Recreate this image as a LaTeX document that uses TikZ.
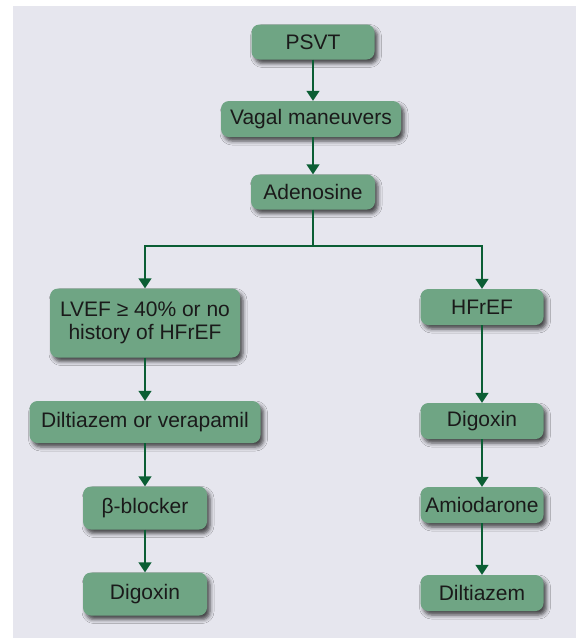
\documentclass[tikz,border=0pt]{standalone}
\usepackage{fontspec}
\setmainfont{Liberation Sans}
\usetikzlibrary{arrows.meta,shadows.blur}
\definecolor{panel}{HTML}{E6E6EE}
\definecolor{boxfill}{HTML}{6FA584}
\definecolor{flow}{HTML}{0B5E34}
\definecolor{ink}{HTML}{1A1A1A}
\tikzset{
  stepbox/.style={rectangle, rounded corners=8pt, fill=boxfill, draw=none,
    text=ink, font=\fontsize{21}{25}\selectfont, inner sep=0pt,
    blur shadow={shadow xshift=3pt, shadow yshift=-4pt,
      shadow blur radius=4pt, shadow opacity=70}},
  arr/.style={draw=flow, line width=1.5pt, -{Triangle[width=13pt,length=10pt]}},
  link/.style={draw=flow, line width=1.5pt}
}
\begin{document}
\begin{tikzpicture}[x=1pt,y=1pt]
  \useasboundingbox (0,0) rectangle (576,-638);
  % backdrop panel
  \fill[panel] (13,-6) rectangle (576,-638);

  % centre column
  \node[stepbox, minimum width=123pt, minimum height=35pt] (psvt)  at (313,-42)  {PSVT};
  \node[stepbox, minimum width=180pt, minimum height=36pt] (vagal) at (311,-119) {Vagal maneuvers};
  \node[stepbox, minimum width=124pt, minimum height=35pt] (aden)  at (313,-192) {Adenosine};
  \coordinate (split) at (313,-246);

  % left branch
  \node[stepbox, minimum width=190pt, minimum height=69pt, align=center] (lvef) at (145,-323)
    {LVEF ≥ 40\% or no\\[-2pt]history of HFrEF};
  \node[stepbox, minimum width=231pt, minimum height=42pt] (dilt) at (145,-422) {Diltiazem or verapamil};
  \node[stepbox, minimum width=124pt, minimum height=43pt] (beta) at (145,-508) {β-blocker};
  \node[stepbox, minimum width=124pt, minimum height=43pt] (digl) at (145,-594) {Digoxin};

  % right branch
  \node[stepbox, minimum width=123pt, minimum height=36pt] (hfref) at (482,-307) {HFrEF};
  \node[stepbox, minimum width=123pt, minimum height=36pt] (digr)  at (482,-421) {Digoxin};
  \node[stepbox, minimum width=123pt, minimum height=36pt] (amio)  at (482,-505) {Amiodarone};
  \node[stepbox, minimum width=123pt, minimum height=36pt] (diltr) at (482,-593) {Diltiazem};

  % connectors
  \draw[arr] (psvt.south) -- (psvt.south |- vagal.north);
  \draw[arr] (vagal.south -| aden.north) -- (aden.north);
  \draw[link] (aden.south) -- (split);
  \draw[arr] (split) -| (lvef.north);
  \draw[arr] (split) -| (hfref.north);
  \draw[arr] (lvef.south) -- (dilt.north);
  \draw[arr] (dilt.south) -- (beta.north);
  \draw[arr] (beta.south) -- (digl.north);
  \draw[arr] (hfref.south) -- (digr.north);
  \draw[arr] (digr.south) -- (amio.north);
  \draw[arr] (amio.south) -- (diltr.north);
\end{tikzpicture}
\end{document}
